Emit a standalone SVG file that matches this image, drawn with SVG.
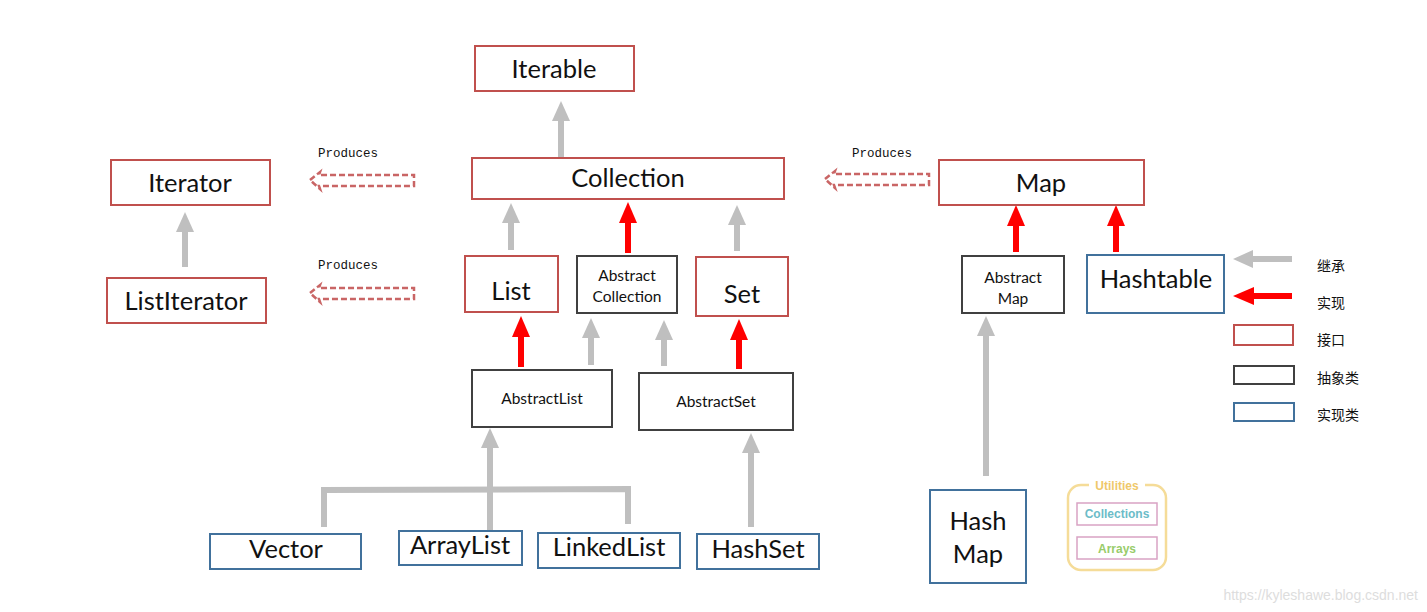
<svg xmlns="http://www.w3.org/2000/svg" width="1427" height="612" viewBox="0 0 1427 612">
<style>
.bg{fill:#fff}
.i{fill:#fff;stroke:#c0504d;stroke-width:2}
.a{fill:#fff;stroke:#404040;stroke-width:2}
.c{fill:#fff;stroke:#41719c;stroke-width:2}
.t{font-family:Lato,"Open Sans","Liberation Sans",sans-serif;fill:#111;text-anchor:middle}
.big{font-size:25.5px}
.sm{font-size:15.5px}
.g{stroke:#bfbfbf;stroke-width:6;fill:none}
.r{stroke:#ff0000;stroke-width:6;fill:none}
.p{fill:none;stroke:#c96565;stroke-width:2.5;stroke-dasharray:6 3}
.pl{font-family:"Liberation Mono","DejaVu Sans Mono",monospace;font-size:12.5px;fill:#111}
.lg{font-family:"Noto Sans CJK SC",sans-serif;font-size:14px;fill:#111}
</style>
<defs>
<marker id="mg" markerUnits="userSpaceOnUse" markerWidth="22" markerHeight="20" refX="0" refY="10" orient="auto"><path d="M0,1 L20,10 L0,19 z" fill="#bfbfbf"/></marker>
<marker id="mr" markerUnits="userSpaceOnUse" markerWidth="22" markerHeight="20" refX="0" refY="10" orient="auto"><path d="M0,1 L21,10 L0,19 z" fill="#ff0000"/></marker>
</defs>
<rect class="bg" x="0" y="0" width="1427" height="612"/>

<g id="connectors">
<line class="g" x1="561" y1="157" x2="561" y2="121" marker-end="url(#mg)"/>
<line class="g" x1="511" y1="250" x2="511" y2="223" marker-end="url(#mg)"/>
<line class="r" x1="628" y1="253" x2="628" y2="223" marker-end="url(#mr)"/>
<line class="g" x1="737" y1="251" x2="737" y2="225" marker-end="url(#mg)"/>
<line class="r" x1="521" y1="367" x2="521" y2="337" marker-end="url(#mr)"/>
<line class="g" x1="591" y1="365" x2="591" y2="338" marker-end="url(#mg)"/>
<line class="g" x1="664" y1="366" x2="664" y2="340" marker-end="url(#mg)"/>
<line class="r" x1="739" y1="369" x2="739" y2="340" marker-end="url(#mr)"/>
<path class="g" d="M324,527 L324,490 L628,489 L628,524"/>
<line class="g" x1="490" y1="530" x2="490" y2="448" marker-end="url(#mg)"/>
<line class="g" x1="751" y1="527" x2="751" y2="453" marker-end="url(#mg)"/>
<line class="g" x1="185" y1="267" x2="185" y2="232" marker-end="url(#mg)"/>
<line class="r" x1="1016" y1="252" x2="1016" y2="226" marker-end="url(#mr)"/>
<line class="r" x1="1116" y1="252" x2="1116" y2="226" marker-end="url(#mr)"/>
<line class="g" x1="986" y1="476" x2="986" y2="336" marker-end="url(#mg)"/>
<path class="p" d="M310,180 L320,172 L319,175 L414,175 L414,186 L319,186 L320,189 Z"/>
<path class="p" d="M310,293 L320,285 L319,288 L414,288 L414,299 L319,299 L320,302 Z"/>
<path class="p" d="M825,179 L835,171 L834,174 L929,174 L929,185 L834,185 L835,188 Z"/>
<text class="pl" x="318" y="157">Produces</text>
<text class="pl" x="318" y="269">Produces</text>
<text class="pl" x="852" y="157">Produces</text>
</g>

<g id="iterable"><rect class="i" x="475" y="46" width="159" height="45"/><text class="t big" x="554" y="78">Iterable</text></g>
<g id="collection"><rect class="i" x="472" y="158" width="312" height="41"/><text class="t big" x="628" y="187">Collection</text></g>
<g id="iterator"><rect class="i" x="111" y="160" width="159" height="45"/><text class="t big" x="190" y="192">Iterator</text></g>
<g id="listiterator"><rect class="i" x="107" y="278" width="159" height="45"/><text class="t big" x="186" y="310">ListIterator</text></g>
<g id="map"><rect class="i" x="939" y="160" width="205" height="45"/><text class="t big" x="1041" y="192">Map</text></g>
<g id="list"><rect class="i" x="465" y="256" width="93" height="56"/><text class="t big" x="511" y="300">List</text></g>
<g id="abstractcollection"><rect class="a" x="577" y="256" width="100" height="57"/><text class="t sm" x="627" y="281">Abstract</text><text class="t sm" x="627" y="302">Collection</text></g>
<g id="set"><rect class="i" x="696" y="257" width="92" height="59"/><text class="t big" x="742" y="303">Set</text></g>
<g id="abstractlist"><rect class="a" x="472" y="370" width="140" height="57"/><text class="t sm" x="542" y="404">AbstractList</text></g>
<g id="abstractset"><rect class="a" x="639" y="373" width="154" height="57"/><text class="t sm" x="716" y="407">AbstractSet</text></g>
<g id="abstractmap"><rect class="a" x="962" y="256" width="102" height="57"/><text class="t sm" x="1013" y="283">Abstract</text><text class="t sm" x="1013" y="304">Map</text></g>
<g id="hashtable"><rect class="c" x="1087" y="255" width="137" height="58"/><text class="t big" x="1156" y="288">Hashtable</text></g>
<g id="hashmap"><rect class="c" x="930" y="490" width="96" height="93"/><text class="t big" x="978" y="530">Hash</text><text class="t big" x="978" y="563">Map</text></g>
<g id="vector"><rect class="c" x="210" y="534" width="151" height="35"/><text class="t big" x="286" y="558">Vector</text></g>
<g id="arraylist"><rect class="c" x="399" y="531" width="123" height="34"/><text class="t big" x="460" y="554">ArrayList</text></g>
<g id="linkedlist"><rect class="c" x="538" y="533" width="142" height="35"/><text class="t big" x="609" y="556">LinkedList</text></g>
<g id="hashset"><rect class="c" x="697" y="534" width="122" height="35"/><text class="t big" x="758" y="558">HashSet</text></g>

<g id="legend">
<line class="g" x1="1292" y1="259" x2="1253" y2="259" marker-end="url(#mg)"/>
<line class="r" x1="1292" y1="296" x2="1254" y2="296" marker-end="url(#mr)"/>
<rect x="1234" y="325" width="59" height="20" fill="#fff" stroke="#c0504d" stroke-width="2"/>
<rect x="1234" y="366" width="60" height="18" fill="#fff" stroke="#404040" stroke-width="2"/>
<rect x="1234" y="403" width="60" height="18" fill="#fff" stroke="#41719c" stroke-width="2"/>
<text class="lg" x="1317" y="271">继承</text>
<text class="lg" x="1317" y="308">实现</text>
<text class="lg" x="1317" y="345">接口</text>
<text class="lg" x="1317" y="383">抽象类</text>
<text class="lg" x="1317" y="420">实现类</text>
</g>

<g id="utilities">
<rect x="1068" y="485" width="98" height="85" rx="13" fill="#fff" stroke="#f5dc98" stroke-width="2.5"/>
<rect x="1089" y="478" width="56" height="14" fill="#fff"/>
<text x="1117" y="490" text-anchor="middle" font-family="'Liberation Sans',Arial,sans-serif" font-weight="bold" font-size="12" fill="#efc86a">Utilities</text>
<rect x="1077" y="503" width="80" height="22" fill="#fff" stroke="#d9a3c4" stroke-width="1.5"/>
<text x="1117" y="518" text-anchor="middle" font-family="'Liberation Sans',Arial,sans-serif" font-weight="bold" font-size="12" fill="#6cbcc8">Collections</text>
<rect x="1077" y="537" width="80" height="22" fill="#fff" stroke="#d9a3c4" stroke-width="1.5"/>
<text x="1117" y="553" text-anchor="middle" font-family="'Liberation Sans',Arial,sans-serif" font-weight="bold" font-size="12" fill="#98cc6a">Arrays</text>
</g>

<text x="1418" y="600" text-anchor="end" font-family="'Liberation Sans',Arial,sans-serif" font-size="14" fill="#dddddd">https://kyleshawe.blog.csdn.net</text>
</svg>
